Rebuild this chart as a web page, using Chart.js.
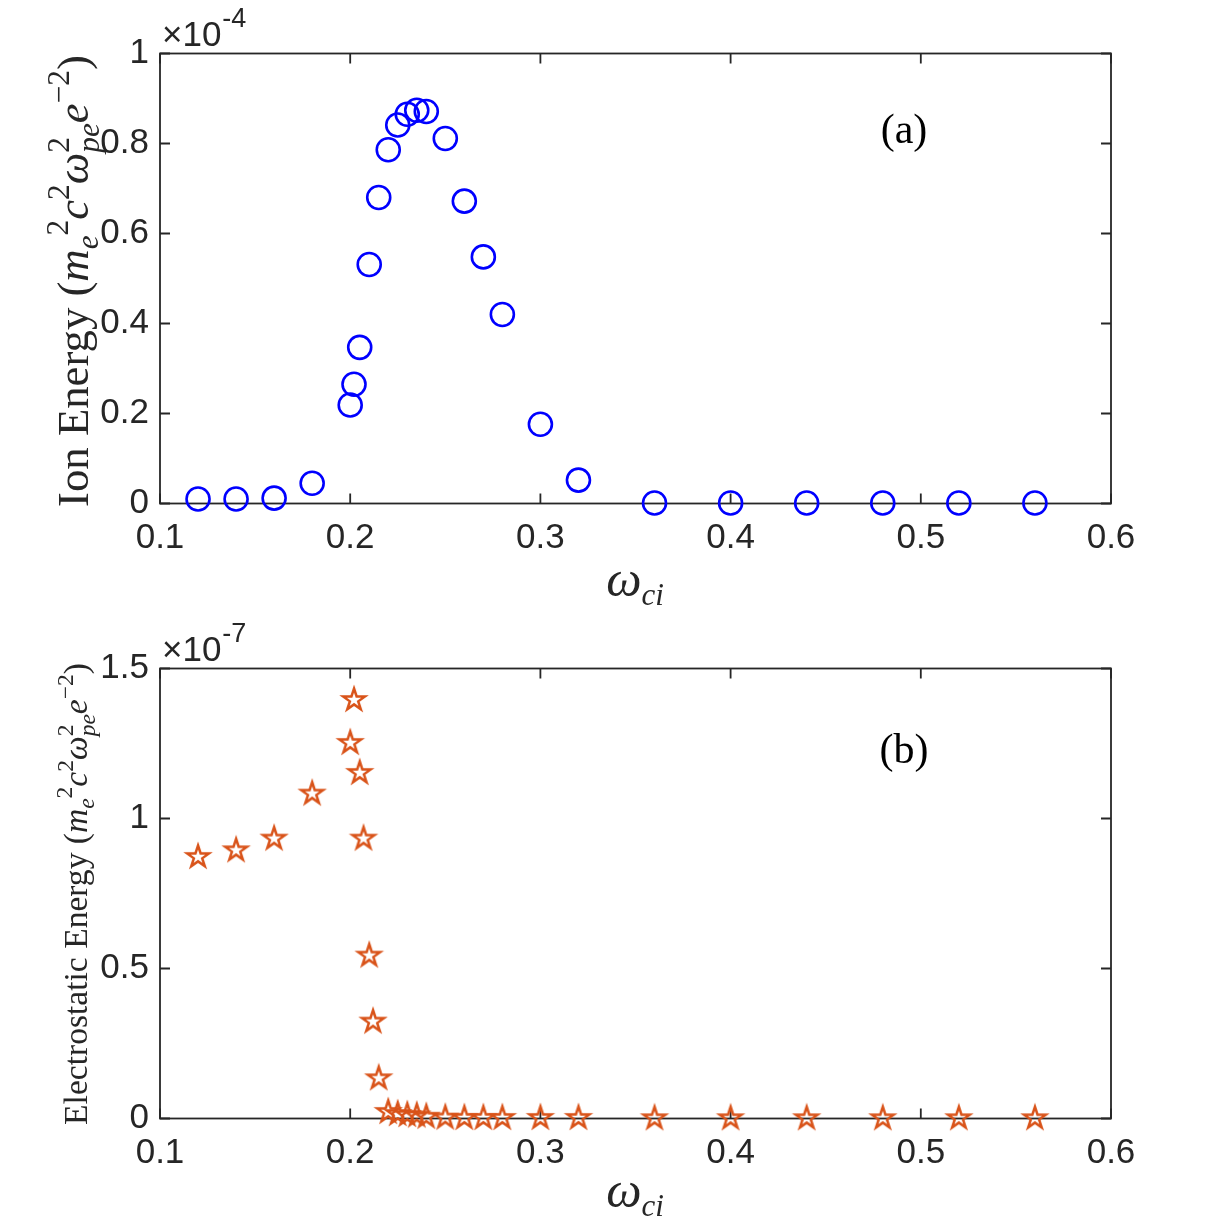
<!DOCTYPE html>
<html><head><meta charset="utf-8">
<script src="https://cdn.jsdelivr.net/npm/chart.js@4"></script>
<style>
html,body{margin:0;padding:0;background:#fff;}
#wrap{position:relative;width:1230px;height:1230px;background:#fff;}
.box{position:absolute;left:0;width:1230px;height:615px;}
</style></head><body>
<div id="wrap">
<div class="box" style="top:0"><canvas id="c1" width="1230" height="615"></canvas></div>
<div class="box" style="top:615px"><canvas id="c2" width="1230" height="615"></canvas></div>
</div>
<script>
// ---- data ----
const xTicks = [0.1, 0.2, 0.3, 0.4, 0.5, 0.6];
const ionX = [0.12,0.14,0.16,0.18,0.2,0.202,0.205,0.21,0.215,0.22,0.225,0.23,0.235,0.24,0.25,0.26,0.27,0.28,0.3,0.32,0.36,0.4,0.44,0.48,0.52,0.56];
const ionY = [0.010,0.010,0.012,0.045,0.219,0.265,0.347,0.531,0.680,0.786,0.841,0.865,0.874,0.871,0.811,0.672,0.548,0.420,0.176,0.052,0.001,0.001,0.001,0.001,0.001,0.001];
const ionTicks = [0, 0.2, 0.4, 0.6, 0.8, 1];
const esX = [0.12,0.14,0.16,0.18,0.2,0.202,0.205,0.207,0.21,0.212,0.215,0.22,0.225,0.23,0.235,0.24,0.25,0.26,0.27,0.28,0.3,0.32,0.36,0.4,0.44,0.48,0.52,0.56];
const esY = [0.872,0.894,0.933,1.083,1.252,1.395,1.152,0.933,0.543,0.323,0.134,0.022,0.015,0.012,0.010,0.006,0.003,0.002,0.002,0.002,0.002,0.002,0.001,0.001,0.001,0.001,0.001,0.001];
const esTicks = [0, 0.5, 1, 1.5];

const AX = '#262626';
const SERIF = '"Liberation Serif", "Times New Roman", serif';
const SANS = '"Liberation Sans", Arial, Helvetica, sans-serif';

function fmt(v){ return String(+(+v).toFixed(2)); }

function pentagram(R, lw, color){
  const s = Math.ceil(2*R + 2*lw + 4);
  const c = document.createElement('canvas'); c.width = s; c.height = s;
  const g = c.getContext('2d');
  g.translate(s/2, s/2);
  const r = R * Math.cos(72*Math.PI/180) / Math.cos(36*Math.PI/180);
  g.beginPath();
  for (let i = 0; i < 10; i++){
    const a = -Math.PI/2 + i*Math.PI/5;
    const rr = i % 2 ? r : R;
    const px = rr*Math.cos(a), py = rr*Math.sin(a);
    i ? g.lineTo(px, py) : g.moveTo(px, py);
  }
  g.closePath();
  g.lineJoin = 'miter';
  g.lineWidth = lw; g.strokeStyle = color; g.stroke();
  return c;
}

// rich text: segments {t, it, sc, dy, stack:{sup,sub}}
function segFont(S, it, sc){ return (it ? 'italic ' : '') + (S*(sc||1)) + 'px ' + SERIF; }
function layoutRich(ctx, segs, S, draw, x0, y0){
  let x = x0;
  for (const s of segs){
    if (s.stack){
      ctx.font = segFont(S, false, 0.7);
      const w1 = ctx.measureText(s.stack.sup).width;
      ctx.font = segFont(S, true, 0.7);
      const w2 = ctx.measureText(s.stack.sub).width;
      if (draw){
        ctx.font = segFont(S, false, 0.7);
        ctx.fillText(s.stack.sup, x, y0 - 0.42*S);
        ctx.font = segFont(S, true, 0.7);
        ctx.fillText(s.stack.sub, x, y0 + 0.25*S);
      }
      x += Math.max(w1, w2);
    } else {
      ctx.font = segFont(S, s.it, s.sc);
      if (draw) ctx.fillText(s.t, x, y0 + (s.dy||0)*S);
      x += ctx.measureText(s.t).width;
    }
  }
  return x - x0;
}

const decor = {
  id: 'decor',
  beforeDatasetsDraw(chart, args, o){
    const ctx = chart.ctx, a = chart.chartArea, xs = chart.scales.x, ys = chart.scales.y;
    ctx.save();
    ctx.strokeStyle = AX; ctx.lineWidth = 1.8;
    ctx.strokeRect(a.left, a.top, a.right - a.left, a.bottom - a.top);
    ctx.beginPath();
    const L = 10;
    xs.ticks.forEach(t => {
      const p = xs.getPixelForValue(t.value);
      ctx.moveTo(p, a.bottom); ctx.lineTo(p, a.bottom - L);
      ctx.moveTo(p, a.top); ctx.lineTo(p, a.top + L);
    });
    ys.ticks.forEach(t => {
      const p = ys.getPixelForValue(t.value);
      ctx.moveTo(a.left, p); ctx.lineTo(a.left + L, p);
      ctx.moveTo(a.right, p); ctx.lineTo(a.right - L, p);
    });
    ctx.stroke();
    ctx.restore();
  },
  afterDraw(chart, args, o){
    const ctx = chart.ctx, a = chart.chartArea;
    ctx.save();
    ctx.fillStyle = AX; ctx.textBaseline = 'alphabetic'; ctx.textAlign = 'left';
    // exponent
    ctx.font = '35px ' + SANS;
    ctx.fillText('\u00d710', a.left + 2, a.top - 8);
    const w = ctx.measureText('\u00d710').width;
    ctx.font = '27px ' + SANS;
    ctx.fillText(o.exp, a.left + 2 + w + 1, a.top - 27);
    // panel label
    ctx.fillStyle = '#000';
    ctx.font = '42px ' + SERIF; ctx.textAlign = 'center';
    ctx.fillText(o.panel, o.panelX, o.panelY);
    ctx.textAlign = 'left';
    // x title
    ctx.fillStyle = AX;
    const xsegs = [{t:'\u03c9', it:true}, {t:'ci', it:true, sc:0.62, dy:0.17}];
    const xw = layoutRich(ctx, xsegs, 50, false, 0, 0);
    layoutRich(ctx, xsegs, 50, true, o.xTitleX - xw/2, o.xTitleY);
    // y title (rotated)
    const base = 10;
    const yw = layoutRich(ctx, o.ysegs, base, false, 0, 0);
    const S = base * o.yLen / yw;
    const fw = layoutRich(ctx, o.ysegs, S, false, 0, 0);
    ctx.translate(o.yBaseX, o.yCenter);
    ctx.rotate(-Math.PI/2);
    layoutRich(ctx, o.ysegs, S, true, -fw/2, 0);
    ctx.restore();
  }
};

function unitSegs(label){
  return [
    {t: label + ' ('},
    {t:'m', it:true},
    {t:'e', it:true, sc:0.7, dy:0.22},
    {t:'2', sc:0.7, dy:-0.45},
    {t:'c', it:true},
    {t:'2', sc:0.7, dy:-0.42},
    {t:'\u03c9', it:true},
    {stack:{sup:'2', sub:'pe'}},
    {t:'e', it:true},
    {t:'\u22122', sc:0.7, dy:-0.42},
    {t:')'}
  ];
}

function makeChart(id, xs, ys, yTicks, yMax, ds, deco){
  const tickFont = {family: SANS, size: 35};
  return new Chart(document.getElementById(id), {
    type: 'scatter',
    data: { datasets: [Object.assign({
      data: xs.map((x, i) => ({x: x, y: ys[i]})),
      backgroundColor: 'rgba(0,0,0,0)',
      showLine: false,
      clip: false
    }, ds)] },
    options: {
      responsive: false, animation: false, devicePixelRatio: 1, events: [],
      layout: { padding: {left: 0, right: 119, top: 53.5, bottom: 0} },
      plugins: { legend: {display: false}, tooltip: {enabled: false}, decor: deco },
      scales: {
        x: {
          type: 'linear', min: 0.1, max: 0.6,
          afterBuildTicks: s => { s.ticks = xTicks.map(v => ({value: v})); },
          afterFit: s => { s.height = 111.5; },
          grid: {display: false, drawTicks: false}, border: {display: false},
          ticks: {padding: 14, color: AX, font: tickFont, maxRotation: 0, autoSkip: false, callback: v => fmt(v)}
        },
        y: {
          type: 'linear', min: 0, max: yMax,
          afterBuildTicks: s => { s.ticks = yTicks.map(v => ({value: v})); },
          afterFit: s => { s.width = 160; },
          grid: {display: false, drawTicks: false}, border: {display: false},
          ticks: {padding: 11, color: AX, font: tickFont, autoSkip: false, callback: v => fmt(v)}
        }
      }
    },
    plugins: [decor]
  });
}

makeChart('c1', ionX, ionY, ionTicks, 1,
  {pointStyle: 'circle', pointRadius: 11.5, borderWidth: 2.6, borderColor: '#0000ff'},
  {exp: '-4', panel: '(a)', panelX: 904, panelY: 143, xTitleX: 635, xTitleY: 596,
   ysegs: unitSegs('Ion Energy'), yLen: 452, yCenter: 281, yBaseX: 88});

makeChart('c2', esX, esY, esTicks, 1.5,
  {pointStyle: pentagram(11.5, 2.5, '#d95319'), pointRadius: 12, borderWidth: 0, borderColor: '#d95319'},
  {exp: '-7', panel: '(b)', panelX: 904, panelY: 148, xTitleX: 635, xTitleY: 592,
   ysegs: unitSegs('Electrostatic Energy'), yLen: 462, yCenter: 279, yBaseX: 87});
</script>
</body></html>
